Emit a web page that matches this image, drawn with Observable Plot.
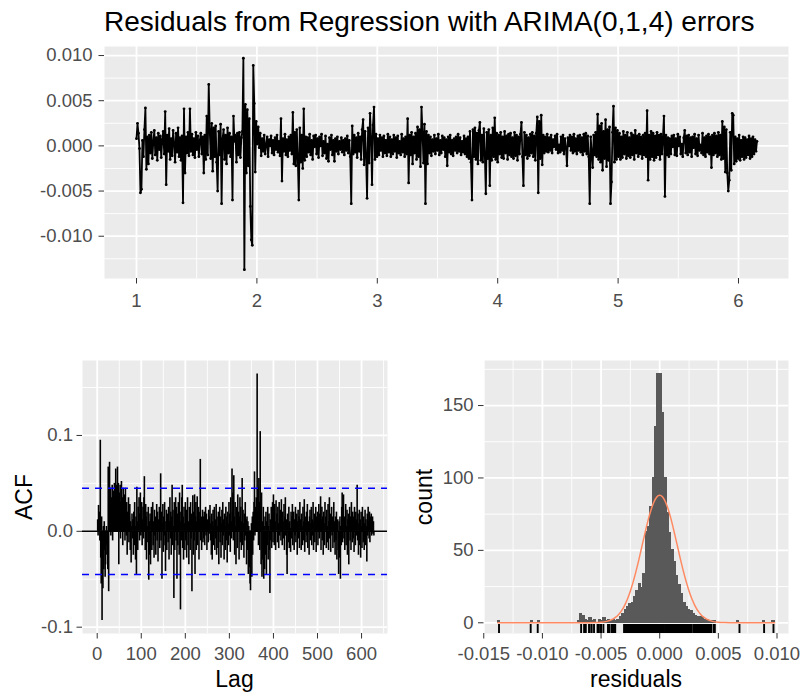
<!DOCTYPE html>
<html><head><meta charset="utf-8">
<script src="https://cdn.jsdelivr.net/npm/d3@7"></script>
<script src="https://cdn.jsdelivr.net/npm/@observablehq/plot@0.6"></script>
<style>
html,body{margin:0;padding:0;background:#fff;}
#chart{width:803px;height:698px;}
</style></head><body><div id="chart"></div>
<script>
const FONT = '"Liberation Sans", Arial, Helvetica, sans-serif';
const titleText = "Residuals from Regression with ARIMA(0,1,4) errors";

// ---- residual series (time index in years, every 3rd day), values in units of 1e-4
const tsStart = 1;
const tsStep = 3 / 365;
const residualsE4 = [
8,25,14,-3,-52,-48,6,-12,18,42,-26,10,-20,12,-8,15,-14,5,17,-10,
9,-16,14,-4,11,-13,7,16,-9,38,-43,12,-6,19,-15,8,-11,17,3,-18,
14,-7,20,-12,9,-16,11,-63,41,-30,10,-8,15,-11,41,-6,13,-10,8,-13,
15,-4,11,-12,6,14,-9,10,-30,12,-15,33,-10,68,18,-14,25,-28,20,-12,
22,-18,-50,16,-10,24,-64,8,18,-15,12,-20,20,-8,14,-12,10,-60,33,5,
12,-18,14,-10,15,-13,9,16,97,-137,46,-30,40,-22,30,-67,-104,-110,89,47,
-29,27,2,21,-2,14,-11,8,-6,12,-9,1,10,-12,7,0,11,-8,6,-10,
9,-4,12,-7,5,-11,30,-39,8,-6,13,-10,7,-12,10,-5,12,-9,37,-20,
15,-22,18,-14,-60,20,-18,12,-25,41,-16,10,-12,9,-7,13,-10,6,-15,11,
-1,12,-9,8,-13,10,0,13,-11,5,-8,11,-14,2,-17,9,-4,12,-10,6,
-17,8,-6,10,-9,5,-4,9,-7,6,-10,8,-5,11,-8,6,-12,-64,22,-9,
12,-7,9,-13,14,-6,10,-15,18,29,-21,16,-12,-58,20,-19,36,10,-43,23,
43,-15,13,-12,8,-10,12,-5,9,-12,11,-8,6,-11,13,-7,10,-12,7,-9,
12,-6,9,-13,11,-8,5,-10,13,-7,8,-12,10,-9,30,-41,12,-10,15,-20,
10,-8,14,-15,21,-12,18,-23,43,15,-19,24,-64,16,-20,12,-8,10,-11,7,
-6,12,-9,8,-5,13,-10,6,-8,11,-4,9,-12,7,-22,10,-7,12,-9,6,
-11,8,-5,10,-8,13,-6,9,-10,5,-7,11,-9,8,-12,10,-14,16,-18,-60,
18,-12,20,-15,14,-20,17,26,-16,12,-18,19,-10,-53,15,-14,18,-44,12,-16,
20,-12,31,-15,14,-18,12,-9,15,-13,10,-14,16,-8,11,-15,13,-10,14,-12,
9,-14,15,-11,12,-16,10,-9,13,26,-12,-44,15,-10,12,-14,9,-11,13,-8,
15,-12,11,-16,14,32,-52,27,-14,34,-21,12,-8,10,-6,13,-7,9,-5,12,
-8,7,-1,11,-4,13,-8,1,-7,10,-5,12,-9,8,-2,-22,9,0,12,-5,
10,-8,13,-6,8,-9,11,-5,12,-7,9,-10,13,-6,14,-9,11,-12,-64,10,
-8,-24,12,-10,15,-12,35,-15,22,-18,25,-27,16,-14,29,-23,18,-16,21,-64,
-40,15,44,-18,20,-15,17,-12,14,-15,10,-13,16,-9,12,-14,15,-11,9,-13,
14,-10,12,-15,17,-8,11,-12,13,-9,10,-14,12,-10,14,-12,39,-38,12,-15,
16,-12,14,-16,11,-13,15,-10,12,-15,13,-9,10,33,-56,12,-10,9,-12,8,
-9,11,-1,12,-10,8,-11,13,0,10,-9,2,-12,9,17,-8,11,-10,12,-7,
9,-12,10,-2,13,-9,8,-11,12,-5,1,-8,14,-10,9,-12,11,-7,13,-9,
10,-24,12,-10,14,-8,11,-12,15,-10,12,-15,27,-14,21,-29,18,-30,-50,-38,
15,-27,36,34,-20,10,-17,8,-14,12,-16,6,-12,10,-15,9,-13,7,-10,11,
-14,8,-12,10,-9,7,-6,5
];

// ---- ACF, lags 1..628, values in units of 0.001
const acfE3 = [
12,-5,27,8,20,-10,95,-28,-55,15,-93,-30,-60,5,-40,10,-20,-48,-35,-15,
5,-25,-10,-40,67,-63,20,72,10,45,-5,35,15,48,-10,30,42,5,50,20,
38,65,10,48,30,67,25,50,-35,40,15,48,-8,30,52,10,35,-15,45,20,
5,38,-10,45,15,-5,30,-25,20,8,35,-12,15,28,-20,10,-33,5,18,-8,
12,-25,20,-15,30,5,-30,15,-45,46,10,-20,25,0,35,-10,18,40,-5,22,
30,-15,12,25,-8,35,57,10,-20,28,15,-30,20,5,-12,25,-51,10,-25,18,
-35,12,25,-20,5,30,-15,10,-28,22,-5,15,-25,8,28,-10,20,-32,12,5,
25,-18,15,60,-10,20,-50,8,28,-22,15,-5,30,-15,-42,10,22,-20,5,18,
-12,25,-30,10,35,-8,20,-25,15,48,-15,22,5,-70,30,-20,12,35,-10,25,
-50,18,-15,30,5,-25,40,10,-82,20,-10,35,48,-18,15,-30,25,8,-20,30,
-10,22,-28,15,35,-15,10,-35,25,5,-20,30,-8,18,-63,12,37,-25,20,-10,
38,-45,15,30,-20,10,36,-15,5,25,-30,12,20,75,-10,15,-20,8,22,-12,
15,-8,20,-15,10,25,-5,18,-20,12,5,-12,22,-3,15,27,-10,8,-25,18,
-30,10,22,-15,5,25,-20,12,-8,28,-25,15,5,-18,20,-35,10,25,-12,15,
-28,8,22,-15,30,-5,12,-30,18,5,-20,25,-10,15,-33,20,8,-15,30,-5,
18,-22,35,10,-8,65,20,40,-10,58,15,-25,30,5,-35,25,12,-18,38,0,
20,-30,15,35,-12,25,-20,10,55,-15,22,8,-28,18,-10,30,-5,12,-35,15,
-20,10,-45,5,-38,-15,-55,-62,-30,8,-48,15,-25,20,-10,30,62,-5,25,12,
35,10,164,20,45,-15,55,30,-20,104,15,-35,40,-48,10,-30,25,-50,5,-40,
15,-25,20,-45,10,-15,25,-30,5,18,-20,-65,12,-10,25,-18,8,30,-12,38,
5,-15,28,10,-20,32,0,18,-12,25,8,-18,30,-5,15,22,-10,33,5,-15,
20,10,-8,28,-20,15,35,-5,12,-25,-45,18,8,-12,25,-18,10,3,-22,20,
-8,15,28,-15,5,20,-20,12,-5,25,-12,8,18,-25,10,22,-8,15,-18,30,
0,12,-20,18,5,-15,25,-10,10,33,-22,15,8,-12,20,-5,28,-18,10,5,
-25,15,22,-10,8,25,-15,12,-5,30,-20,10,18,-12,5,25,-22,15,0,20,
-15,10,28,-8,18,5,36,-20,12,25,-10,15,-25,20,8,-15,30,0,15,-18,
22,5,-12,28,-20,10,35,-8,18,-22,12,25,-5,15,-18,8,30,-12,10,-25,
15,-10,20,-30,8,12,-20,-45,10,-28,15,-50,5,-15,25,40,-12,20,38,-8,
15,-20,10,28,-15,5,22,-25,12,18,-35,8,25,-10,15,-20,30,5,-12,20,
-8,15,-22,25,10,-15,20,-5,12,48,-10,18,-25,8,22,-15,12,-28,20,5,
-18,25,10,-12,15,-20,8,22,-15,12,5,-32,18,-5,25,10,-8,20,-12,15,
5,18,-5,12,15,-3,10,-5
];
const acfBound = 0.045;

// ---- histogram of residuals: bins of fixed width, counts
const histStart = -0.0138;
const histBinWidth = 0.0002;
const histCounts = [
1,0,0,0,0,0,0,0,0,0,0,0,0,0,1,0,0,1,0,0,0,0,0,0,0,0,0,0,0,0,0,0,0,0,
1,6,5,2,1,3,1,2,0,2,1,3,1,2,1,2,1,2,4,6,9,11,13,14,18,22,27,24,34,63,
66,80,100,135,172,172,145,100,76,62,50,42,32,26,20,14,11,9,8,6,5,4,4,3,2,2,1,1,1,
0,0,0,0,0,0,0,0,0,1,0,0,0,0,0,0,0,0,0,0,1,0,0,0,1
];

// ---- fitted normal curve (scaled to counts)
const normalX = [-0.0138,-0.007,-0.006,-0.0055,-0.005,-0.0045,-0.004,-0.00375,-0.0035,-0.00325,-0.003,-0.00275,-0.0025,-0.00225,-0.002,-0.00175,-0.0015,-0.00125,-0.001,-0.00075,-0.0005,-0.00025,0,
0.00025,0.0005,0.00075,0.001,0.00125,0.0015,0.00175,0.002,0.00225,0.0025,0.00275,0.003,0.00325,0.0035,0.00375,0.004,0.0045,0.005,0.0055,0.006,0.007,0.0098];
const normalY = [0,0,0.03,0.11,0.34,0.98,2.51,3.86,5.78,8.4,11.9,16.4,22.0,28.6,36.2,44.5,53.4,62.1,70.5,77.7,83.2,86.8,88,
86.8,83.2,77.7,70.5,62.1,53.4,44.5,36.2,28.6,22.0,16.4,11.9,8.4,5.78,3.86,2.51,0.98,0.34,0.11,0.03,0,0];

// ---- tick labels / grid
const topXTicks = [1,2,3,4,5,6];
const topXMinor = [1.5,2.5,3.5,4.5,5.5];
const topYTicks = [-0.010,-0.005,0,0.005,0.010];
const topYMinor = [-0.0125,-0.0075,-0.0025,0.0025,0.0075];
const acfXTicks = [0,100,200,300,400,500,600];
const acfXMinor = [50,150,250,350,450,550,650];
const acfYTicks = [-0.1,0,0.1];
const acfYMinor = [-0.05,0.05,0.15];
const histXTicks = [-0.015,-0.010,-0.005,0,0.005,0.010];
const histXMinor = [-0.0125,-0.0075,-0.0025,0.0025,0.0075];
const histYTicks = [0,50,100,150];
const histYMinor = [25,75,125,175];

// ---- build tables
const series = residualsE4.map((v, i) => ({t: tsStart + i * tsStep, r: v / 10000}));
const acfData = acfE3.map((v, i) => ({lag: i + 1, acf: v / 1000}));
const histData = histCounts.map((c, i) => ({x1: histStart + i * histBinWidth, x2: histStart + (i + 1) * histBinWidth, count: c}));
const normalData = normalX.map((x, i) => ({x, y: normalY[i]}));

const PANEL = "#EBEBEB";
const TICKTXT = "#4D4D4D";
const BAR = "#595959";
const baseStyle = {fontFamily: FONT, fontSize: "18.5px", background: "transparent", overflow: "visible"};

function grid(xMajor, xMinor, yMajor, yMinor) {
  return [
    Plot.frame({fill: PANEL, stroke: null}),
    Plot.ruleX(xMinor, {stroke: "white", strokeWidth: 0.9}),
    Plot.ruleY(yMinor, {stroke: "white", strokeWidth: 0.9}),
    Plot.ruleX(xMajor, {stroke: "white", strokeWidth: 1.8}),
    Plot.ruleY(yMajor, {stroke: "white", strokeWidth: 1.8})
  ];
}
function axes(xt, xf, yt, yf, ypad, xpad) {
  return [
    Plot.axisX({ticks: xt, tickFormat: xf, tickSize: 5.5, tickPadding: xpad, stroke: "#333333", fill: TICKTXT, fontSize: 18.5, label: null}),
    Plot.axisY({ticks: yt, tickFormat: yf, tickSize: 5.5, tickPadding: ypad, stroke: "#333333", fill: TICKTXT, fontSize: 18.5, label: null})
  ];
}

const topPlot = Plot.plot({
  width: 803, height: 320,
  marginLeft: 104, marginRight: 15, marginTop: 46, marginBottom: 42,
  style: baseStyle,
  x: {domain: [0.7342, 6.4153]},
  y: {domain: [-0.01468, 0.011]},
  marks: [
    ...grid(topXTicks, topXMinor, topYTicks, topYMinor),
    Plot.line(series, {x: "t", y: "r", stroke: "black", strokeWidth: 1.8}),
    Plot.dot(series, {x: "t", y: "r", r: 1.4, fill: "black", stroke: null}),
    ...axes(topXTicks, d => String(d), topYTicks, d => d.toFixed(3), 6.5, 9.5)
  ]
});

const acfPlot = Plot.plot({
  width: 400, height: 368,
  marginLeft: 82, marginRight: 13, marginTop: 30, marginBottom: 65,
  style: baseStyle,
  x: {domain: [-33.4, 658.9]},
  y: {domain: [-0.1066, 0.1782]},
  marks: [
    ...grid(acfXTicks, acfXMinor, acfYTicks, acfYMinor),
    Plot.ruleY([0], {stroke: "black", strokeWidth: 1.6}),
    Plot.ruleX(acfData, {x: "lag", y1: () => 0, y2: "acf", stroke: "black", strokeWidth: 1.6}),
    Plot.ruleY([acfBound, -acfBound], {stroke: "#0000FF", strokeWidth: 1.5, strokeDasharray: "7,6"}),
    ...axes(acfXTicks, d => String(d), acfYTicks, d => d.toFixed(1), 4, 7.5)
  ]
});

const histPlot = Plot.plot({
  width: 403, height: 368,
  marginLeft: 83.5, marginRight: 15, marginTop: 30, marginBottom: 65,
  style: baseStyle,
  x: {domain: [-0.01498, 0.01098]},
  y: {domain: [-7.4, 181.1]},
  marks: [
    ...grid(histXTicks, histXMinor, histYTicks, histYMinor),
    Plot.rectY(histData, {filter: d => d.count > 0, x1: "x1", x2: "x2", y1: () => 0, y2: "count", fill: BAR, stroke: BAR, strokeWidth: 1, inset: 0, shapeRendering: "crispEdges"}),
    Plot.line(normalData, {x: "x", y: "y", stroke: "#FF8A62", strokeWidth: 1.5, curve: "monotone-x"}),
    Plot.tickX(series, {x: "r", stroke: "black", strokeWidth: 1.9, insetTop: 264}),
    ...axes(histXTicks, d => d.toFixed(3), histYTicks, d => String(d), 5, 7.5)
  ]
});

const outer = d3.create("svg")
  .attr("width", 803).attr("height", 698)
  .attr("viewBox", "0 0 803 698")
  .style("display", "block")
  .style("font-family", FONT);
outer.append("rect").attr("width", 803).attr("height", 698).attr("fill", "white");

function place(node, x, y, w, h) {
  node.setAttribute("x", x);
  node.setAttribute("y", y);
  node.setAttribute("width", w);
  node.setAttribute("height", h);
  node.style.width = w + "px";
  node.style.height = h + "px";
  node.style.maxWidth = "none";
  outer.node().appendChild(node);
}
place(topPlot, 0, 0, 803, 320);
place(acfPlot, 0, 330, 400, 368);
place(histPlot, 400, 330, 403, 368);

outer.append("text").attr("x", 104).attr("y", 31).attr("font-size", 28).attr("fill", "black").text(titleText);
outer.append("text").attr("transform", "translate(32,497) rotate(-90)").attr("text-anchor", "middle").attr("font-size", 23).attr("fill", "black").text("ACF");
outer.append("text").attr("x", 234.5).attr("y", 687).attr("text-anchor", "middle").attr("font-size", 23).attr("fill", "black").text("Lag");
outer.append("text").attr("transform", "translate(432,497) rotate(-90)").attr("text-anchor", "middle").attr("font-size", 23).attr("fill", "black").text("count");
outer.append("text").attr("x", 636).attr("y", 687).attr("text-anchor", "middle").attr("font-size", 23).attr("fill", "black").text("residuals");

document.getElementById("chart").appendChild(outer.node());
</script>
</body></html>
